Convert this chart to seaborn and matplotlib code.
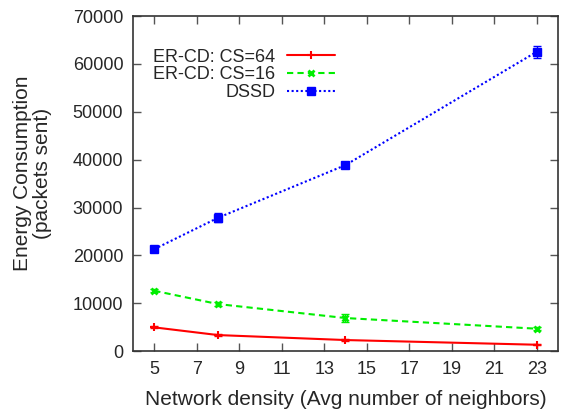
import numpy as np
import pandas as pd
import matplotlib
matplotlib.use("Agg")
import matplotlib.pyplot as plt
import seaborn as sns

density = [5, 8, 14, 23]
ercd_cs64 = [4950, 3340, 2300, 1320]
ercd_cs64_err = [200, 200, 200, 150]
ercd_cs16 = [12600, 9820, 6900, 4670]
ercd_cs16_err = [350, 400, 900, 300]
dssd = [21300, 27850, 38860, 62540]
dssd_err = [350, 900, 700, 1200]

series_names = ["ER-CD: CS=64", "ER-CD: CS=16", "DSSD"]
xticks = [5, 7, 9, 11, 13, 15, 17, 19, 21, 23]
yticks = [0, 10000, 20000, 30000, 40000, 50000, 60000, 70000]

sns.set_style("ticks")
plt.rcParams["font.family"] = ["Liberation Sans", "DejaVu Sans"]

df = pd.DataFrame({
    "density": density * 3,
    "energy": ercd_cs64 + ercd_cs16 + dssd,
    "err": ercd_cs64_err + ercd_cs16_err + dssd_err,
    "series": sum([[n] * len(density) for n in series_names], []),
})

fig = plt.figure(figsize=(5.67, 4.13), dpi=100)
ax = fig.add_axes([0.2346, 0.150, 0.7494, 0.811])

styles = {
    "ER-CD: CS=64": dict(color="#ff0000", ls="-", marker="+", ms=6, mew=1.5, lw=1.5),
    "ER-CD: CS=16": dict(color="#00ee00", ls=(0, (3, 2)), marker="x", ms=5, mew=2, lw=1.5),
    "DSSD": dict(color="#0000ff", ls=(0, (1, 1.2)), marker="s", ms=5.5, mew=1, lw=1.5),
}

for name in series_names:
    sub = df[df["series"] == name]
    st = styles[name]
    sns.lineplot(data=sub, x="density", y="energy", ax=ax, color=st["color"],
                 linestyle=st["ls"], linewidth=st["lw"], marker=st["marker"],
                 markersize=st["ms"], markeredgewidth=st["mew"],
                 markeredgecolor=st["color"], label=name, errorbar=None)
    ax.errorbar(sub["density"], sub["energy"], yerr=sub["err"], fmt="none",
                ecolor=st["color"], elinewidth=1, capsize=3, capthick=1)

ax.set_xlim(4, 24)
ax.set_ylim(0, 70000)
ax.set_xticks(xticks)
ax.set_yticks(yticks)
ax.tick_params(direction="in", top=True, right=True, length=6, width=1,
               color="#555555", labelsize=13, pad=7)
for s in ax.spines.values():
    s.set_linewidth(1.2)
    s.set_color("#333333")

ax.set_xlabel("Network density (Avg number of neighbors)", fontsize=15, labelpad=9)
ax.set_ylabel("Energy Consumption\n(packets sent)", fontsize=15,
              linespacing=1.1)
ax.yaxis.set_label_coords(-0.19, 0.53)

# markerfirst=False puts labels left of the line samples, right-aligned
leg = ax.legend(loc="upper right", bbox_to_anchor=(0.475, 0.903), frameon=False,
                fontsize=13, markerfirst=False, handlelength=2.65,
                labelspacing=0.05, handletextpad=0.65, borderaxespad=0,
                borderpad=0)

fig.savefig("out.png", dpi=100)
